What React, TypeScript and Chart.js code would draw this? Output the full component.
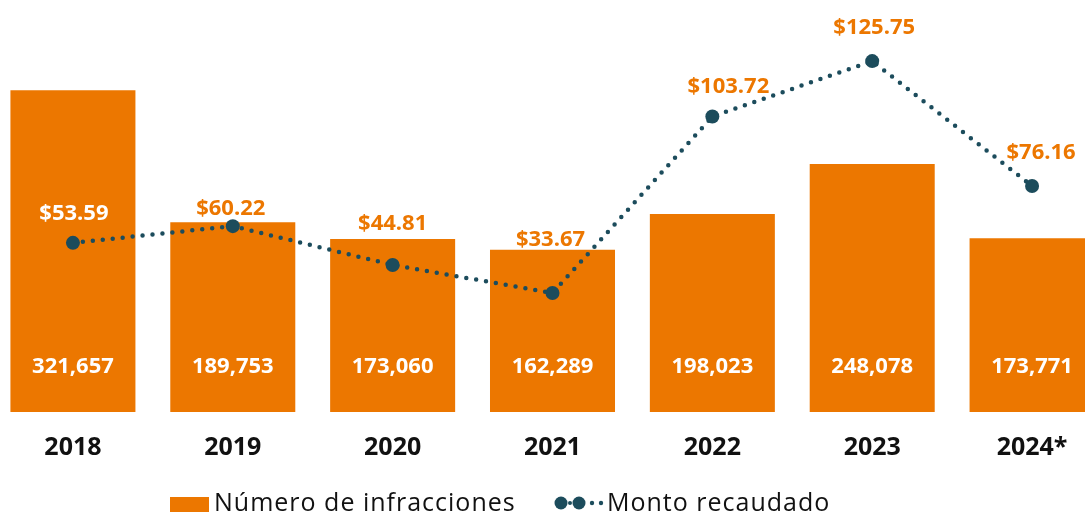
import React, { useEffect, useRef } from "react";
import { Chart, registerables } from "chart.js";

Chart.register(...registerables);

const years = ["2018", "2019", "2020", "2021", "2022", "2023", "2024*"];
const infracciones = [321657, 189753, 173060, 162289, 198023, 248078, 173771];
const monto = [53.59, 60.22, 44.81, 33.67, 103.72, 125.75, 76.16];
const seriesNames = ["Número de infracciones", "Monto recaudado"];

// label nudges (pixels) for the amount labels, relative to each point
const amountLabelDx = [1, -2, 0, -2, 16, 2, 9];
const amountLabelDy = [29, 17, 41, 53, 30, 33, 33];

const ORANGE = "#EC7700";
const TEAL = "#1C4C5C";
const FONT = "'Open Sans', sans-serif";

const fmtInt = (v: number) => v.toLocaleString("en-US");
const fmtMoney = (v: number) => "$" + v.toFixed(2);

const labelsPlugin = {
  id: "customLabels",
  afterDatasetsDraw(chart: any) {
    const ctx = chart.ctx;
    const barMeta = chart.getDatasetMeta(1);
    const lineMeta = chart.getDatasetMeta(0);
    ctx.save();
    ctx.textAlign = "center";
    ctx.textBaseline = "middle";
    // bar values
    ctx.font = `700 22px ${FONT}`;
    ctx.fillStyle = "#FFFFFF";
    barMeta.data.forEach((bar: any, i: number) => {
      ctx.fillText(fmtInt(infracciones[i]), bar.x, 367);
    });
    // amounts
    lineMeta.data.forEach((pt: any, i: number) => {
      const x = pt.x + amountLabelDx[i];
      const y = pt.y - amountLabelDy[i];
      const bar = barMeta.data[i];
      const inside = y > bar.y && Math.abs(x - bar.x) < bar.width / 2;
      ctx.fillStyle = inside ? "#FFFFFF" : ORANGE;
      ctx.fillText(fmtMoney(monto[i]), x, y);
    });
    ctx.restore();
  },
  afterDraw(chart: any) {
    const ctx = chart.ctx;
    const off = 7; // canvas is shifted left by this amount
    const cy = 504;
    ctx.save();
    // bar legend
    ctx.fillStyle = ORANGE;
    ctx.fillRect(170 + off, 497, 39, 15);
    ctx.fillStyle = "#111111";
    ctx.font = `500 25px ${FONT}`;
    try {
      (ctx as any).letterSpacing = "1px";
    } catch (e) {}
    ctx.textAlign = "left";
    ctx.textBaseline = "middle";
    ctx.fillText(seriesNames[0], 214 + off, cy);
    // line legend
    ctx.fillStyle = TEAL;
    const dot = (x: number, r: number) => {
      ctx.beginPath();
      ctx.arc(x + off, 503, r, 0, Math.PI * 2);
      ctx.fill();
    };
    dot(561, 6.5);
    dot(570, 2);
    dot(579, 6.5);
    dot(592, 2.2);
    dot(601, 2.2);
    ctx.fillStyle = "#111111";
    ctx.fillText(seriesNames[1], 607 + off, cy);
    ctx.restore();
  },
};

export default function App() {
  const ref = useRef<HTMLCanvasElement>(null);
  useEffect(() => {
    if (!ref.current) return;
    const chart = new Chart(ref.current, {
      type: "bar",
      data: {
        labels: years,
        datasets: [
          {
            type: "line",
            label: seriesNames[1],
            data: monto,
            yAxisID: "y1",
            borderColor: TEAL,
            backgroundColor: TEAL,
            borderWidth: 4.5,
            borderDash: [0, 10],
            borderCapStyle: "round",
            pointRadius: 7,
            pointBackgroundColor: TEAL,
            pointBorderWidth: 0,
            tension: 0,
            clip: false,
            order: 0,
          } as any,
          {
            type: "bar",
            label: seriesNames[0],
            data: infracciones,
            yAxisID: "y",
            backgroundColor: ORANGE,
            borderWidth: 0,
            barPercentage: 0.782,
            categoryPercentage: 1,
            order: 1,
          } as any,
        ],
      },
      options: {
        responsive: false,
        animation: false,
        layout: { autoPadding: false, padding: { left: 0, right: 0, top: 0, bottom: 33 } },
        plugins: {
          legend: { display: false },
          tooltip: { enabled: false },
        },
        scales: {
          x: {
            grid: { display: false, drawTicks: false },
            border: { display: false },
            ticks: {
              color: "#111111",
              font: { family: FONT, size: 25, weight: "700" },
              padding: 21,
            },
          },
          y: { display: false, min: 0, max: 412000 },
          y1: { display: false, min: -13.57, max: 150 },
        },
      } as any,
      plugins: [labelsPlugin],
    });
    return () => chart.destroy();
  }, []);

  return (
    <div
      style={{
        position: "fixed",
        left: 0,
        top: 0,
        width: 1085,
        height: 517,
        overflow: "hidden",
        background: "#FFFFFF",
      }}
    >
      <canvas
        ref={ref}
        width={1119}
        height={517}
        style={{ position: "absolute", left: -7, top: 0, width: 1119, height: 517 }}
      />
    </div>
  );
}
